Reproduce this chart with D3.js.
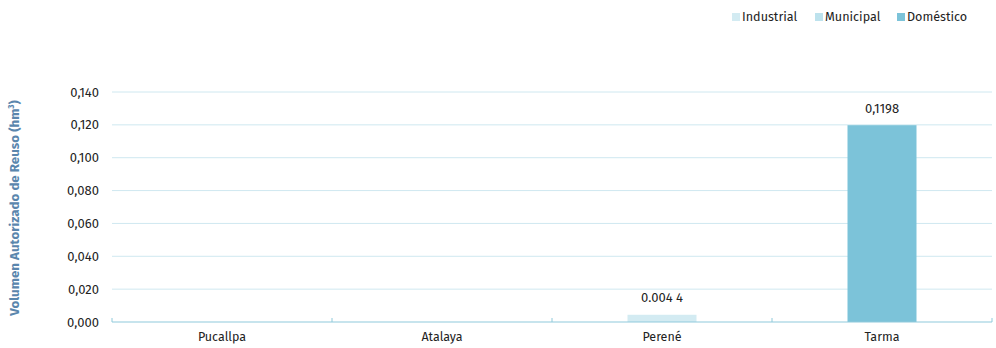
<!DOCTYPE html>
<html><head><meta charset="utf-8">
<script src="https://cdn.jsdelivr.net/npm/d3@7"></script>
<style>body{margin:0;background:#fff;}svg{display:block;font-family:"Fira Sans","Noto Sans","Open Sans",sans-serif;}</style>
</head><body><svg id="c" width="996" height="348"></svg>
<script>
const categories = ["Pucallpa","Atalaya","Perené","Tarma"];
const seriesNames = ["Industrial","Municipal","Doméstico"];
const industrial = [0, 0, 0.0044, 0];
const municipal = [0, 0, 0, 0];
const domestico = [0, 0, 0, 0.1198];
const valueLabels = ["", "", "0.004 4", "0,1198"];
const yTicks = [0,0.02,0.04,0.06,0.08,0.10,0.12,0.14];
const colors = ["#d3ebf2","#bde2ed","#7cc3d9"];

const svg = d3.select("#c");
const m = {l:112, r:4, t:92, b:26};
const W = 996, H = 348;
const x = d3.scaleBand().domain(categories).range([m.l, W-m.r]).paddingInner(0).paddingOuter(0);
const y = d3.scaleLinear().domain([0,0.14]).range([H-m.b, m.t]);
const fmt = v => d3.format(".3f")(v).replace(".",",");

// grid
svg.append("g").selectAll("line").data(yTicks.slice(1)).join("line")
  .attr("x1", m.l).attr("x2", W-m.r).attr("y1", d=>y(d)).attr("y2", d=>y(d))
  .attr("stroke","#cfe8f0").attr("stroke-width",1);
// y tick labels
svg.append("g").selectAll("text").data(yTicks).join("text")
  .attr("x", 99).attr("y", d=>y(d)).attr("dy","0.35em").attr("text-anchor","end")
  .attr("font-size",13).attr("fill","#222").text(fmt);

// stacked bars
const stackData = categories.map((c,i)=>({cat:c, Industrial:industrial[i], Municipal:municipal[i], "Doméstico":domestico[i]}));
const stack = d3.stack().keys(seriesNames)(stackData);
const bw = 69;
stack.forEach((s,si)=>{
  svg.append("g").selectAll("rect").data(s.filter(d=>d[1]-d[0]>0)).join("rect")
    .attr("x", d=>x(d.data.cat)+x.bandwidth()/2-bw/2).attr("width", bw)
    .attr("y", d=>y(d[1])).attr("height", d=>y(d[0])-y(d[1]))
    .attr("fill", colors[si]);
});
// value labels
svg.append("g").selectAll("text").data(categories.map((c,i)=>({c, v:industrial[i]+municipal[i]+domestico[i], l:valueLabels[i]})).filter(d=>d.l))
  .join("text").attr("x", d=>x(d.c)+x.bandwidth()/2).attr("y", d=>y(d.v)-17)
  .attr("dy","0.35em").attr("text-anchor","middle").attr("font-size",13).attr("fill","#222").text(d=>d.l);

// x axis
const xa = svg.append("g").attr("transform",`translate(0,${H-m.b})`);
xa.append("line").attr("x1",m.l).attr("x2",W-m.r).attr("stroke","#8fcadb").attr("stroke-width",1.2);
const edges = categories.map(c=>x(c)).concat([W-m.r]);
xa.selectAll("line.t").data(edges).join("line").attr("class","t")
  .attr("x1",d=>d).attr("x2",d=>d).attr("y1",-4).attr("y2",0).attr("stroke","#8fcadb");
xa.selectAll("text").data(categories).join("text")
  .attr("x", d=>x(d)+x.bandwidth()/2).attr("y", 15).attr("dy","0.35em").attr("text-anchor","middle")
  .attr("font-size",12.5).attr("fill","#222").text(d=>d);

// y title
svg.append("text").attr("transform","translate(14,208) rotate(-90)").attr("text-anchor","middle")
  .attr("dy","0.35em").attr("font-size",13.3).attr("font-weight","bold").attr("fill","#5a86ad")
  .html('Volumen Autorizado de Reuso (hm<tspan dy="-5" font-size="8">3</tspan><tspan dy="5">)</tspan>');

// legend
const lx = [732, 815, 897];
const lg = svg.append("g");
seriesNames.forEach((n,i)=>{
  lg.append("rect").attr("x",lx[i]).attr("y",13).attr("width",8).attr("height",8).attr("fill",colors[i]);
  lg.append("text").attr("x",lx[i]+10).attr("y",17).attr("dy","0.35em").attr("font-size",12.6).attr("fill","#222").text(n);
});
</script></body></html>
